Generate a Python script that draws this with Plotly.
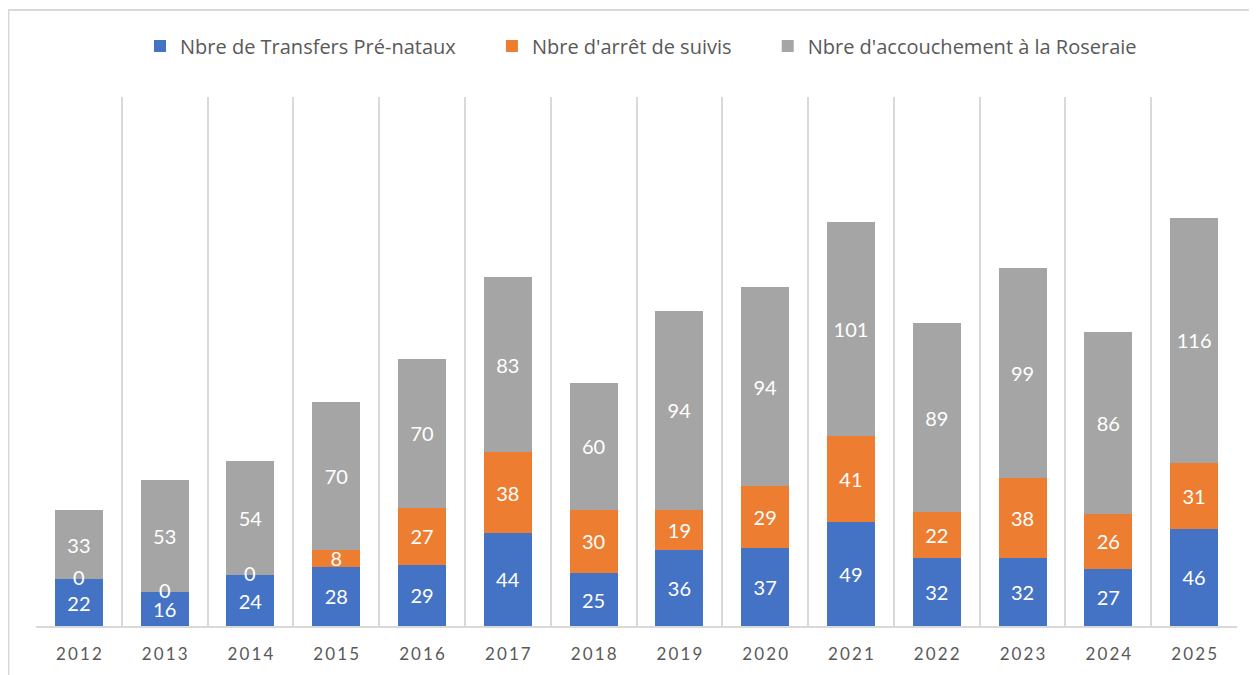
import plotly.graph_objects as go

years = [2012, 2013, 2014, 2015, 2016, 2017, 2018, 2019, 2020, 2021, 2022, 2023, 2024, 2025]
transferts = [22, 16, 24, 28, 29, 44, 25, 36, 37, 49, 32, 32, 27, 46]
arrets = [0, 0, 0, 8, 27, 38, 30, 19, 29, 41, 22, 38, 26, 31]
accouchements = [33, 53, 54, 70, 70, 83, 60, 94, 94, 101, 89, 99, 86, 116]

names = ["Nbre de Transfers Pré-nataux", "Nbre d'arrêt de suivis", "Nbre d'accouchement à la Roseraie"]
colors = ["#4472C4", "#ED7D31", "#A5A5A5"]
tick_text = ["\u2009".join(list(str(y))) for y in years]

FONT = "Lato"
LEG_FONT = "Open Sans"
PAD = "\u00a0" * 6

# page body adds an 8px offset; layout numbers below compensate for it
L, T, W, H = 28, 89, 1201, 529

fig = go.Figure()
for i, (vals, name, col) in enumerate(zip([transferts, arrets, accouchements], names, colors)):
    fig.add_trace(go.Bar(
        x=years, y=vals, name=name + (PAD if i < 2 else ""), width=0.56,
        marker=dict(color=col, line=dict(width=0)),
        text=[str(v) for v in vals], textposition="inside",
        insidetextanchor="middle", textangle=0,
        textfont=dict(color="white", size=20, family=FONT),
        constraintext="none", hoverinfo="x+y+name",
    ))

# labels for zero-height segments
for yr, b, a in zip(years, transferts, arrets):
    if a == 0:
        fig.add_annotation(x=yr, y=b, text=str(a), showarrow=False, yshift=2,
                           font=dict(color="white", size=20, family=FONT),
                           xref="x", yref="y")

fig.update_layout(
    barmode="stack",
    width=1257, height=675,
    margin=dict(l=L, r=1257 - L - W, t=T, b=675 - T - H),
    paper_bgcolor="white", plot_bgcolor="white",
    font=dict(family=FONT, color="#595959"),
    uniformtext=dict(minsize=20, mode="show"),
    legend=dict(orientation="h", x=(633 - L) / W, xanchor="center",
                y=1 + (T - 38) / H, yanchor="middle",
                font=dict(size=20, color="#595959", family=LEG_FONT),
                itemwidth=30, traceorder="normal"),
    showlegend=True,
)
fig.update_xaxes(
    range=[2011.5, 2025.5], tickmode="array", tickvals=years, ticktext=tick_text,
    showgrid=False, showline=True, linecolor="#d9d9d9", linewidth=2,
    ticks="", tickfont=dict(size=17, color="#595959", family=FONT),
    ticklabelstandoff=12,
    minor=dict(tickmode="linear", tick0=2011.5, dtick=1, showgrid=True,
               gridcolor="#d9d9d9", gridwidth=2, ticks=""),
    zeroline=False,
)
fig.update_yaxes(range=[0, 250], showgrid=False, showticklabels=False,
                 zeroline=False, showline=False, ticks="")

# outer chart border
fig.add_shape(type="rect", xref="paper", yref="paper",
              x0=(0.5 - L) / W, x1=1.1, y0=-0.2, y1=1 + (T - 2) / H,
              line=dict(color="#d9d9d9", width=2), fillcolor="rgba(0,0,0,0)", layer="below")

fig.write_html("out.html")
